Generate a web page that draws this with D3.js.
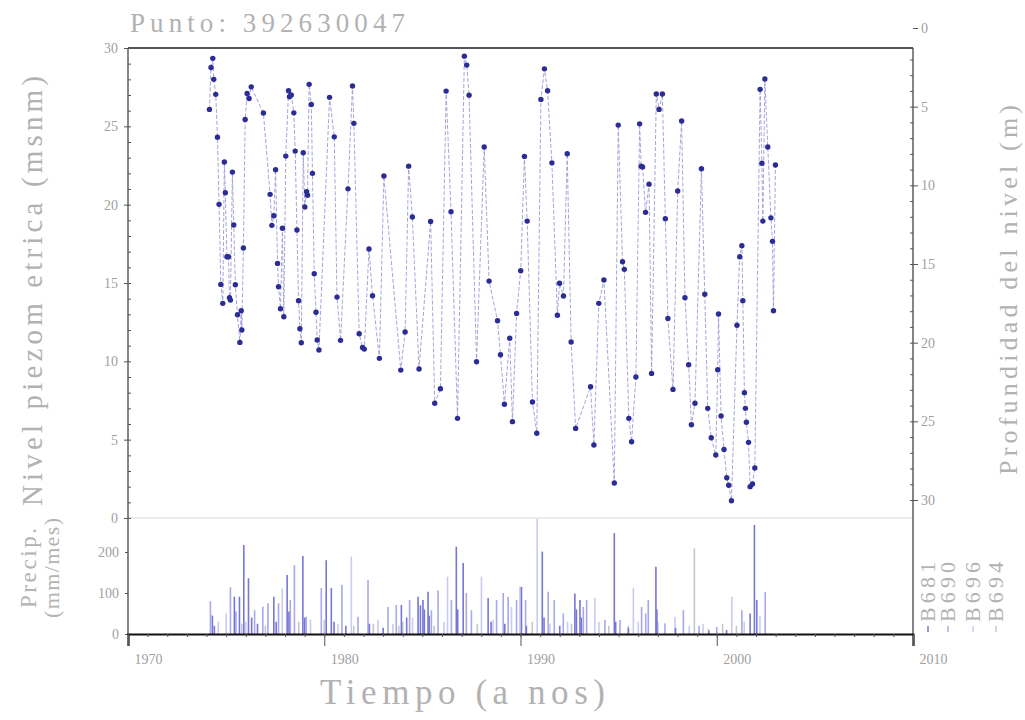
<html>
<head>
<meta charset="utf-8">
<script src="https://cdnjs.cloudflare.com/ajax/libs/d3/7.8.5/d3.min.js"></script>
<style>
  body { margin: 0; background: #fff; }
  svg { display: block; }
  .tick text { font-family: "Liberation Serif", serif; fill: #a0a0a0; font-size: 14px; }
  .tick line { stroke: #555; }
  .lbl { font-family: "Liberation Serif", serif; fill: #b2b2b2; }
</style>
</head>
<body>
<svg width="1025" height="720"></svg>
<script>
// piezometric level (msnm) readings
const levelTime = [
  1974.15,1974.23,1974.32,1974.37,1974.47,1974.56,1974.64,1974.73,1974.83,1974.91,1974.96,1975.04,1975.12,1975.17,1975.22,
  1975.32,1975.39,1975.47,1975.58,1975.70,1975.77,1975.80,1975.88,1975.97,1976.07,1976.17,1976.28,1976.90,1977.24,1977.33,
  1977.43,1977.52,1977.62,1977.67,1977.77,1977.87,1977.94,1978.04,1978.18,1978.23,1978.32,1978.45,1978.52,1978.61,1978.69,
  1978.76,1978.83,1978.93,1979.01,1979.10,1979.15,1979.23,1979.34,1979.40,1979.49,1979.58,1979.64,1979.73,1980.27,1980.51,
  1980.65,1980.83,1981.21,1981.44,1981.51,1981.78,1981.95,1982.04,1982.28,1982.46,1982.81,1983.04,1983.90,
  1984.12,1984.30,1984.49,1984.83,1985.42,1985.63,1985.92,1986.21,1986.46,1986.79,1987.14,1987.26,1987.38,1987.76,1988.15,
  1988.40,1988.83,1988.98,1989.18,1989.45,1989.59,1989.80,1990.01,1990.20,1990.34,1990.61,1990.83,1991.04,1991.22,1991.38,
  1991.60,1991.88,1991.99,1992.19,1992.38,1992.58,1992.81,1993.57,1993.74,
  1993.99,1994.25,1994.78,1994.98,1995.20,1995.29,1995.52,1995.66,1995.88,1996.07,1996.15,1996.22,1996.37,1996.55,1996.68,
  1996.92,1997.06,1997.23,1997.38,1997.51,1997.77,1998.01,1998.21,1998.38,1998.57,1998.71,1998.89,1999.22,1999.39,1999.54,
  1999.72,1999.95,2000.05,2000.09,2000.22,2000.37,2000.51,2000.61,2000.75,2001.03,2001.17,2001.28,2001.33,2001.41,2001.46,
  2001.51,2001.62,2001.70,2001.82,2001.94,2002.21,2002.30,2002.35,2002.45,2002.60,2002.76,2002.84,2002.89,2002.99
];
const levelValue = [
  26.08,28.76,29.34,28.0,27.04,24.30,20.02,14.91,13.70,22.72,20.76,16.68,16.68,14.06,13.91,
  22.08,18.70,14.89,12.97,11.21,13.23,12.0,17.23,25.44,27.10,26.78,27.52,25.85,20.66,18.68,
  19.29,22.23,16.25,14.76,13.36,18.49,12.85,23.10,27.27,26.89,27.0,25.86,23.42,18.38,13.87,
  12.08,11.19,23.31,19.85,20.82,20.6,27.68,26.40,22.0,15.59,13.13,11.36,10.72,26.85,24.33,
  14.10,11.34,21.01,27.57,25.19,11.76,10.89,10.78,17.17,14.19,10.19,21.83,9.44,
  11.87,22.46,19.21,9.51,18.93,7.32,8.25,27.25,19.55,6.36,29.48,28.91,26.99,9.97,23.68,
  15.12,12.59,10.42,7.26,11.47,6.15,13.06,15.78,23.08,18.95,7.40,5.41,26.72,28.67,27.27,
  22.67,12.94,14.98,14.17,23.25,11.23,5.72,8.38,4.66,
  13.70,15.19,2.23,25.08,16.36,15.87,6.36,4.87,9.0,25.16,22.46,22.4,19.51,21.31,9.23,
  27.06,26.08,27.06,19.10,12.74,8.21,20.87,25.34,14.06,9.78,5.95,7.32,22.29,14.28,7.0,
  5.12,4.02,9.46,13.02,6.51,4.38,2.57,2.09,1.10,12.30,16.68,17.38,13.87,8.0,7.0,
  6.11,4.83,2.0,2.17,3.19,27.36,22.64,18.95,28.02,23.68,19.16,17.66,13.23,22.53
];

// monthly precipitation (mm/mes), [year, value]
const p681 = [
  [1974.3,45],[1974.4,20],[1975.42,91],[1975.68,91],[1975.9,217],[1976.14,136],[1976.3,40],[1976.6,25],[1977.43,91],
  [1977.55,30],[1978.11,144],[1978.2,55],[1978.91,190],[1979.0,40],[1980.1,180],[1980.36,112],[1980.5,30],[1981.1,20],
  [1982.3,25],[1983.0,15],[1983.93,71],[1984.2,40],[1984.78,91],[1984.9,70],[1985.03,83],[1985.1,60],[1985.29,103],
  [1985.35,45],[1986.73,213],[1986.8,60],[1987.08,173],[1988.35,88],[1988.5,30],[1989.2,25],[1990.05,115],[1990.3,20],
  [1991.11,201],[1991.2,40],[1992.0,20],[1992.77,99],[1992.85,60],[1993.03,83],[1993.1,40],[1994.78,246],[1994.85,30],
  [1995.5,15],[1996.9,164],[1996.95,60],[1997.9,15],[1999.6,8],[2000.5,10],[2001.7,50],[2001.92,266],[2002.04,83]
];
const p690 = [
  [1974.2,80],[1975.22,114],[1975.5,55],[1976.45,58],[1976.87,67],[1977.13,75],[1977.67,75],[1978.27,83],[1978.48,168],
  [1979.08,42],[1979.85,112],[1980.9,120],[1981.72,42],[1982.23,132],[1983.25,66],[1983.67,71],[1984.35,83],[1985.46,58],
  [1985.8,106],[1986.48,83],[1987.24,100],[1987.5,58],[1988.78,83],[1989.12,100],[1989.37,91],[1989.8,83],[1990.26,83],
  [1991.41,103],[1991.72,83],[1992.18,50],[1993.2,66],[1993.37,83],[1994.3,34],[1995.07,34],[1996.17,66],[1996.38,50],
  [1996.51,83],[1997.36,26],[1998.3,58],[1999.1,20],[2000.0,17],[2001.28,58],[2002.47,102]
];
const p696 = [
  [1974.6,30],[1975.0,50],[1976.0,30],[1977.86,111],[1979.3,35],[1980.7,25],[1981.38,189],[1982.74,34],[1983.5,25],
  [1984.5,40],[1986.1,30],[1986.28,140],[1988.01,140],[1988.6,35],[1989.54,66],[1989.97,115],[1990.85,282],[1991.5,25],
  [1992.4,30],[1993.79,88],[1994.0,30],[1995.75,112],[1996.0,30],[1997.87,42],[1998.6,20],[1999.3,25],[2000.77,91],
  [2001.4,30],[2002.2,45]
];
const p694 = [
  [1975.8,25],[1977.0,20],[1978.7,30],[1980.0,35],[1981.5,20],[1982.5,25],[1983.8,20],[1984.0,30],[1985.6,20],
  [1987.8,25],[1990.6,30],[1992.6,25],[1994.5,20],[1995.49,20],[1997.0,30],[1998.86,209],[1999.58,13],[2000.3,25],[2001.0,20]
];
const precipNames = ["B681", "B690", "B696", "B694"];
const precipData = [p681, p690, p696, p694];
const precipColors = ["#7676d8", "#a8a8ea", "#cacaf2", "#c6c6d0"];

const xTicks = [1970, 1980, 1990, 2000, 2010];
const levelTicks = [0, 5, 10, 15, 20, 25, 30];
const depthTicks = [0, 5, 10, 15, 20, 25, 30];
const precipTicks = [0, 100, 200];

const svg = d3.select("svg");
svg.append("rect").attr("width", 1025).attr("height", 720).attr("fill", "#fff");

const L = 128, R = 913, T = 48, midY = 518, B = 634;
const x = d3.scaleLinear().domain([1970, 2010]).range([L, R]);
const y = d3.scaleLinear().domain([0, 30]).range([midY, T]);
const yDepth = d3.scaleLinear().domain([0, 30]).range([28, 500]);
const yP = d3.scaleLinear().domain([0, 200]).range([B, 552]);

// precipitation bars (lightest first)
for (let s = precipData.length - 1; s >= 0; s--) {
  svg.append("g").selectAll("line").data(precipData[s]).join("line")
    .attr("x1", d => x(d[0])).attr("x2", d => x(d[0]))
    .attr("y1", yP(0)).attr("y2", d => yP(d[1]))
    .attr("stroke", precipColors[s]).attr("stroke-width", 1.6);
}

// panel separator
svg.append("line").attr("x1", L).attr("x2", R).attr("y1", midY).attr("y2", midY)
  .attr("stroke", "#e6e6e6").attr("stroke-width", 1.5);

// level line + points
const pts = levelTime.map((t, i) => [t, levelValue[i]]);
svg.append("path").datum(pts)
  .attr("d", d3.line().x(d => x(d[0])).y(d => y(d[1])))
  .attr("fill", "none").attr("stroke", "#9a9ad6").attr("stroke-width", 0.9)
  .attr("stroke-dasharray", "4,2");
svg.append("g").selectAll("circle").data(pts).join("circle")
  .attr("cx", d => x(d[0])).attr("cy", d => y(d[1])).attr("r", 2.7)
  .attr("fill", "#2c2c96");

// frame
svg.append("line").attr("x1", L).attr("x2", R).attr("y1", T).attr("y2", T)
  .attr("stroke", "#555").attr("stroke-width", 2);
svg.append("line").attr("x1", L).attr("x2", L).attr("y1", T).attr("y2", B)
  .attr("stroke", "#444").attr("stroke-width", 1.3);
svg.append("line").attr("x1", R).attr("x2", R).attr("y1", T).attr("y2", B)
  .attr("stroke", "#444").attr("stroke-width", 1.3);

// left level axis
const gl = svg.append("g").attr("transform", `translate(${L},0)`)
  .call(d3.axisLeft(y).tickValues(levelTicks).tickSize(4).tickPadding(6));
gl.select(".domain").remove();
const glm = svg.append("g").attr("transform", `translate(${L},0)`)
  .call(d3.axisRight(y).ticks(30).tickSize(3).tickFormat(""));
glm.select(".domain").remove();

// right depth axis
const gr = svg.append("g").attr("transform", `translate(${R},0)`)
  .call(d3.axisRight(yDepth).tickValues(depthTicks).tickSize(5).tickPadding(3));
gr.select(".domain").remove();
const grm = svg.append("g").attr("transform", `translate(${R},0)`)
  .call(d3.axisLeft(yDepth).tickValues(d3.range(2, 31)).tickSize(3).tickFormat(""));
grm.select(".domain").remove();

// precipitation axis
const gp = svg.append("g").attr("transform", `translate(${L},0)`)
  .call(d3.axisLeft(yP).tickValues(precipTicks).tickSize(3).tickPadding(6));
gp.select(".domain").remove();
gp.selectAll("text").attr("font-size", 12);

// time axis
const gx = svg.append("g").attr("transform", `translate(0,${B})`)
  .call(d3.axisBottom(x).tickValues(xTicks).tickFormat(d3.format("d")).tickSize(12).tickPadding(0));
gx.select(".domain").attr("stroke", "#111").attr("stroke-width", 2.2);
gx.selectAll("line").attr("stroke", "#bbb");
gx.selectAll("text").attr("text-anchor", "start").attr("x", 6).attr("y", 20);
const gxm = svg.append("g").attr("transform", `translate(0,${B})`)
  .call(d3.axisBottom(x).ticks(40).tickSize(3).tickFormat(""));
gxm.select(".domain").remove();
gxm.selectAll("line").attr("stroke", "#bbb");

// texts
svg.append("text").attr("class", "lbl").attr("x", 130).attr("y", 32)
  .attr("font-size", 27).attr("textLength", 275).attr("lengthAdjust", "spacing")
  .text("Punto: 392630047");
svg.append("text").attr("class", "lbl").attr("x", 320).attr("y", 704)
  .attr("font-size", 35).attr("textLength", 285).attr("lengthAdjust", "spacing")
  .text("Tiempo (a nos)");
svg.append("text").attr("class", "lbl").attr("transform", "translate(42,291) rotate(-90)")
  .attr("text-anchor", "middle").attr("font-size", 29)
  .attr("textLength", 430).attr("lengthAdjust", "spacing")
  .text("Nivel piezom etrica (msnm)");
svg.append("text").attr("class", "lbl").attr("transform", "translate(1017,290) rotate(-90)")
  .attr("text-anchor", "middle").attr("font-size", 26)
  .attr("textLength", 370).attr("lengthAdjust", "spacing")
  .text("Profundidad del nivel (m)");
svg.append("text").attr("class", "lbl").attr("transform", "translate(36,568) rotate(-90)")
  .attr("text-anchor", "middle").attr("font-size", 23)
  .attr("textLength", 80).attr("lengthAdjust", "spacing").text("Precip.");
svg.append("text").attr("class", "lbl").attr("transform", "translate(59,568) rotate(-90)")
  .attr("text-anchor", "middle").attr("font-size", 22)
  .attr("textLength", 100).attr("lengthAdjust", "spacing").text("(mm/mes)");

// legend
const legX = [935, 955, 980, 1003];
precipNames.forEach((n, i) => {
  svg.append("line").attr("x1", legX[i] - 7).attr("x2", legX[i] - 7)
    .attr("y1", 626).attr("y2", 632).attr("stroke", precipColors[i]).attr("stroke-width", 1.5);
  svg.append("text").attr("class", "lbl")
    .attr("transform", `translate(${legX[i]},622) rotate(-90)`)
    .attr("font-size", 22)
    .attr("textLength", 60).attr("lengthAdjust", "spacing").text(n);
});
</script>
</body>
</html>
